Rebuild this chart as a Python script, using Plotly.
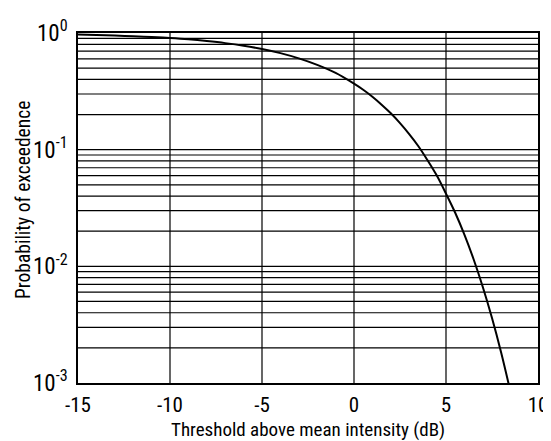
import plotly.graph_objects as go

# Curve
threshold_db = [-15, -14, -13, -12, -11, -10, -9, -8, -7, -6, -5, -4, -3, -2, -1,
                0, 0.5, 1, 1.5, 2, 2.5, 3, 3.5, 4, 4.5, 5, 5.5, 6, 6.5, 7, 7.5, 8, 8.4]
prob_exceed = [0.969, 0.961, 0.951, 0.939, 0.924, 0.905, 0.882, 0.853, 0.819, 0.778,
               0.729, 0.672, 0.606, 0.533, 0.455, 0.368, 0.326, 0.284, 0.243, 0.205,
               0.169, 0.136, 0.107, 0.081, 0.060, 0.042, 0.0288, 0.0187, 0.0115,
               0.00666, 0.00361, 0.00182, 0.00099]

x_ticks = [-15, -10, -5, 0, 5, 10]
x_tick_labels = ["-15", "-10", "-5", "0", "5", "10"]
y_ticks = [1e-3, 1e-2, 1e-1, 1]
y_tick_labels = ["10<sup>-3</sup>", "10<sup>-2</sup>", "10<sup>-1</sup>", "10<sup>0</sup>"]
y_grid = [m * 10 ** e for e in (-3, -2, -1) for m in range(2, 10)] + [1e-2, 1e-1]
x_grid = [-10, -5, 0, 5]

x_title = "Threshold above mean intensity (dB)"
y_title = "Probability of exceedence"

FONT = "Roboto Condensed, DejaVu Sans Condensed, sans-serif"

fig = go.Figure()
fig.add_trace(go.Scatter(x=threshold_db, y=prob_exceed, mode="lines",
                         line=dict(color="black", width=2), line_shape="spline",
                         showlegend=False, hoverinfo="skip"))

shapes = []
for g in y_grid:
    shapes.append(dict(type="line", xref="paper", x0=0, x1=1, yref="y", y0=g, y1=g,
                       line=dict(color="black", width=1.2), layer="below"))
for g in x_grid:
    shapes.append(dict(type="line", xref="x", x0=g, x1=g, yref="paper", y0=0, y1=1,
                       line=dict(color="black", width=1.2), layer="below"))

# the page body adds an 8px offset, so the figure is 8px smaller
fig.update_layout(
    width=543, height=433,
    margin=dict(l=70, r=13, t=25, b=58),
    paper_bgcolor="white", plot_bgcolor="white",
    font=dict(family=FONT, color="black", size=18),
    shapes=shapes,
    xaxis=dict(range=[-15, 10], tickvals=x_ticks, ticktext=x_tick_labels,
               showgrid=False, zeroline=False, showline=True, mirror=True,
               linecolor="black", linewidth=1.5, ticks="", automargin=False,
               ticklabelstandoff=2, tickfont=dict(size=21)),
    yaxis=dict(type="log", range=[-3, 0], tickvals=y_ticks, ticktext=y_tick_labels,
               showgrid=False, zeroline=False, showline=True, mirror=True,
               linecolor="black", linewidth=1.5, ticks="", automargin=False,
               ticklabelstandoff=4, tickfont=dict(size=23)),
    annotations=[
        dict(text=x_title, xref="paper", yref="paper", x=0.5, y=0, yshift=-46,
             xanchor="center", yanchor="middle", showarrow=False, font=dict(size=19)),
        dict(text=y_title, xref="paper", yref="paper", x=0, xshift=-55, y=0.5, yshift=8,
             xanchor="center", yanchor="middle", textangle=-90, showarrow=False,
             font=dict(size=19.5)),
    ],
)

fig.write_html("out.html")
